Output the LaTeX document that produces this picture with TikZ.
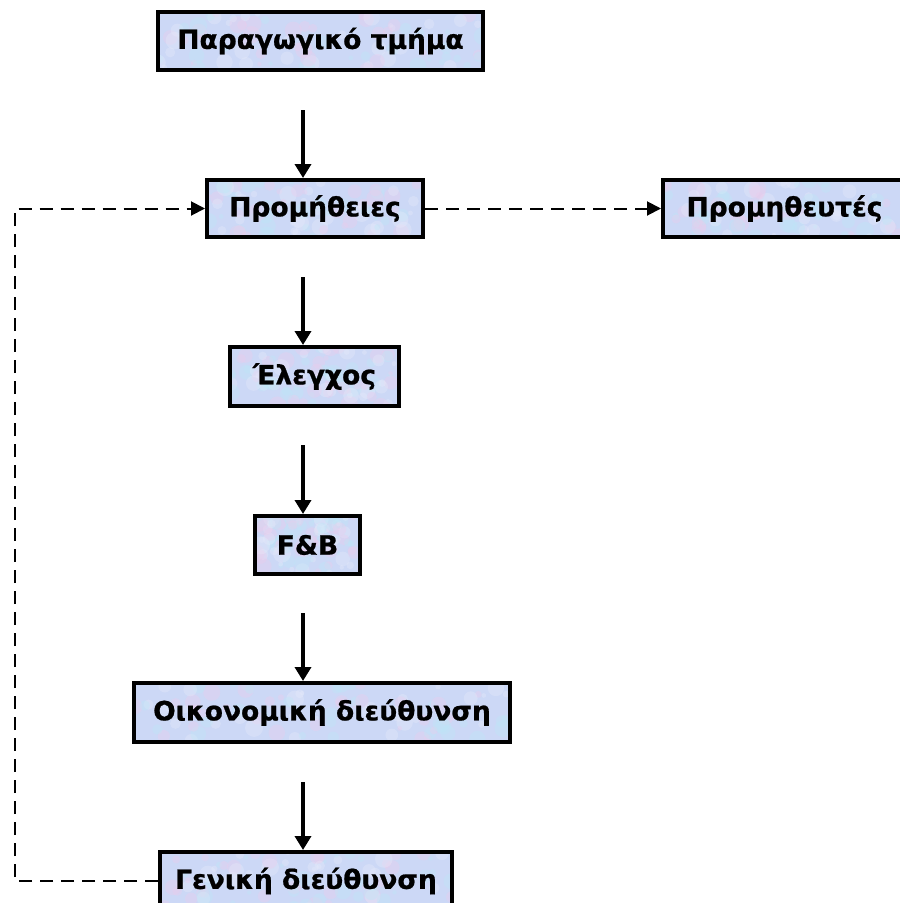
\documentclass[tikz,border=0pt]{standalone}
\usepackage{fontspec}
\setmainfont{DejaVu Sans}
\newfontfamily\boxfont{DejaVu Sans}[BoldFeatures={FakeBold=0.8}]
\usetikzlibrary{arrows.meta,calc}
\definecolor{boxfill}{RGB}{204,216,246}
\definecolor{tex0}{RGB}{236,204,236}
\definecolor{tex1}{RGB}{188,232,246}
\definecolor{tex2}{RGB}{232,236,250}
\pgfmathsetseed{7}
\begin{document}
\begin{tikzpicture}[x=1pt,y=-1pt,
  box/.style={draw=black,line width=4pt,fill=boxfill,inner sep=0pt,
    font=\boxfont\fontsize{26.5}{30}\selectfont\bfseries,
    path picture={
      \foreach \i in {1,...,90}{
        \pgfmathsetmacro\rx{rnd}\pgfmathsetmacro\ry{rnd}\pgfmathsetmacro\rr{2+7*rnd}
        \pgfmathtruncatemacro\rc{mod(\i,3)}
        \path[fill=tex\rc,opacity=0.35] let \p1=(path picture bounding box.south west),
          \p2=(path picture bounding box.north east) in
          ({\x1+\rx*(\x2-\x1)},{\y1+\ry*(\y2-\y1)}) circle[radius=\rr pt];
      }
    }},
  flow/.style={line width=3.5pt,-{Triangle[length=14pt,width=16pt]}},
  back/.style={line width=2pt,dash pattern=on 13pt off 8pt,-{Triangle[length=14pt,width=14pt]}}]
\useasboundingbox (0,0) rectangle (900,903);
\node[box,minimum width=325pt,minimum height=58pt] (b1) at (320.5,41) {Παραγωγικό τμήμα};
\node[box,minimum width=216pt,minimum height=57pt] (b2) at (315,208.5) {Προμήθειες};
\node[box,minimum width=243pt,minimum height=57pt] (b3) at (784.5,208.5) {Προμηθευτές};
\node[box,minimum width=169pt,minimum height=59pt] (b4) at (314.5,376.5) {Έλεγχος};
\node[box,minimum width=105pt,minimum height=58pt] (b5) at (307.5,545) {F\&B};
\node[box,minimum width=376pt,minimum height=59pt] (b6) at (322,712.5) {Οικονομική διεύθυνση};
\node[box,minimum width=292pt,minimum height=58pt] (b7) at (306,881) {Γενική διεύθυνση};
\coordinate (s1) at (303,110);
\coordinate (s2) at (303,277);
\coordinate (s3) at (303,445);
\coordinate (s4) at (303,613);
\coordinate (s5) at (303,782);
\coordinate (lc) at (15,500);
\draw[flow] (s1) -- (s1 |- b2.north);
\draw[flow] (s2) -- (s2 |- b4.north);
\draw[flow] (s3) -- (s3 |- b5.north);
\draw[flow] (s4) -- (s4 |- b6.north);
\draw[flow] (s5) -- (s5 |- b7.north);
\draw[back] (b2.east) -- (b3.west);
\draw[back] (b7.west) -- (lc |- b7.west) -- (lc |- b2.west) -- (b2.west);
\end{tikzpicture}
\end{document}
